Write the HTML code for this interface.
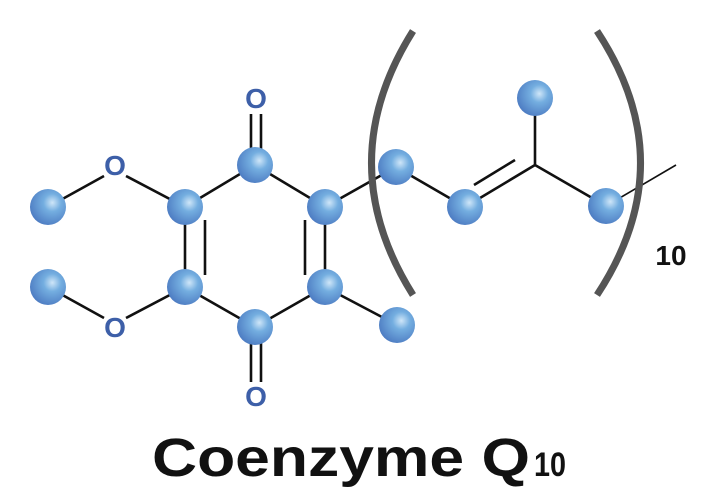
<!DOCTYPE html>
<html><head><style>body{margin:0;background:#fff;width:719px;height:489px;overflow:hidden}</style></head><body>
<svg width="719" height="489" viewBox="0 0 719 489" xmlns="http://www.w3.org/2000/svg">
<defs><radialGradient id="g" cx="0.62" cy="0.38" r="0.7"><stop offset="0" stop-color="#cfe6f8"/><stop offset="0.35" stop-color="#74aee0"/><stop offset="1" stop-color="#4a78c0"/></radialGradient></defs>
<g stroke="#111" stroke-width="2.6" fill="none">
<path d="M48 207 L104 176 M126 176 L185 207 L255 165 L325 207 L325 287 L255 327 L185 287 L185 207"/>
<path d="M48 287 L104 318 M126 318 L185 287"/>
<path d="M205 220 L205 275 M305 220 L305 275"/>
<path d="M251 114 L251 160 M261 114 L261 160 M251 336 L251 382 M261 336 L261 382"/>
<path d="M325 287 L397 325"/>
<path d="M325 207 L396 167 L465 207 L535 165 L535 98 M535 165 L606 206"/>
<path d="M474 185 L515 160"/>
<path d="M606 206 L676 165" stroke-width="1.6"/>
</g>
<g fill="none" stroke="#555" stroke-width="7">
<path d="M413 31 Q330 163 413 295"/>
<path d="M597 31 Q684 163 597 295"/>
</g>
<g fill="url(#g)">
<circle cx="48" cy="207" r="18"/><circle cx="185" cy="207" r="18"/><circle cx="255" cy="165" r="18"/><circle cx="325" cy="207" r="18"/><circle cx="325" cy="287" r="18"/><circle cx="255" cy="327" r="18"/><circle cx="185" cy="287" r="18"/><circle cx="48" cy="287" r="18"/><circle cx="397" cy="325" r="18"/><circle cx="396" cy="167" r="18"/><circle cx="465" cy="207" r="18"/><circle cx="535" cy="98" r="18"/><circle cx="606" cy="206" r="18"/>
</g>
<g font-family="Liberation Sans, sans-serif" fill="#3d5fa8" font-size="28" font-weight="bold" text-anchor="middle">
<text x="115" y="175">O</text><text x="115" y="337">O</text><text x="256" y="108">O</text><text x="256" y="406">O</text>
</g>
<text x="671" y="265" font-family="Liberation Sans, sans-serif" font-weight="bold" font-size="28" text-anchor="middle" fill="#111">10</text>
<text x="152" y="476" font-family="Liberation Sans, sans-serif" font-weight="bold" font-size="54" fill="#111" textLength="378" lengthAdjust="spacingAndGlyphs">Coenzyme Q</text>
<text x="534" y="476" font-family="Liberation Sans, sans-serif" font-weight="bold" font-size="34" fill="#111" textLength="32" lengthAdjust="spacingAndGlyphs">10</text>
</svg>
</body></html>
